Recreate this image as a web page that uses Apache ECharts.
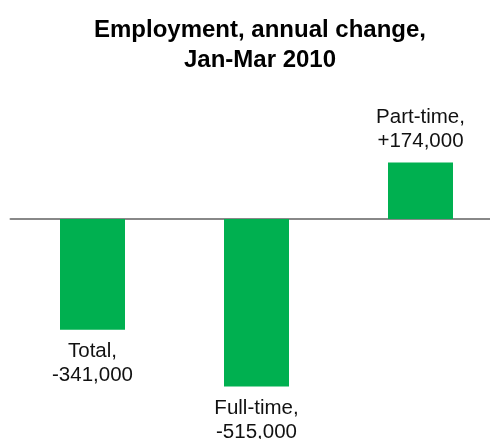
<!DOCTYPE html>
<html>
<head>
<meta charset="utf-8">
<script src="https://cdn.jsdelivr.net/npm/echarts@6/dist/echarts.min.js"></script>
<style>
html,body{margin:0;padding:0;background:#fff;}
#chart{width:490px;height:439px;}
</style>
</head>
<body>
<div id="chart"></div>
<script>
const categories = ['Total,', 'Full-time,', 'Part-time,'];
const values = [-341000, -515000, 174000];
const titleLines = ['Employment, annual change,', 'Jan-Mar 2010'];

function fmt(v) {
  const s = Math.abs(v).toLocaleString('en-US');
  return (v < 0 ? '-' : '+') + s;
}

const chart = echarts.init(document.getElementById('chart'));
const data = values.map((v, i) => ({
  value: [i, v],
  label: {
    position: v < 0 ? 'bottom' : 'top',
    distance: v < 0 ? 10 : 9,
    formatter: categories[i] + '\n' + fmt(v)
  }
}));

chart.setOption({
  animation: false,
  title: {
    text: titleLines.join('\n'),
    left: 255,
    top: 10,
    textAlign: 'center',
    textStyle: {
      fontFamily: 'Liberation Sans, Arial, sans-serif',
      fontWeight: 'bold',
      fontSize: 24,
      lineHeight: 30,
      color: '#000'
    }
  },
  grid: { left: 10.5, right: 0, top: 154, height: 260 },
  xAxis: {
    type: 'value',
    min: -0.5,
    max: (479.5 / 164) - 0.5,
    axisLine: { onZero: true, lineStyle: { color: '#888888', width: 2 } },
    axisTick: { show: false },
    axisLabel: { show: false },
    splitLine: { show: false }
  },
  yAxis: {
    type: 'value',
    min: -600000,
    max: 200000,
    show: false,
    splitLine: { show: false }
  },
  series: [{
    type: 'bar',
    data: data,
    barWidth: 65,
    itemStyle: { color: '#00B050' },
    label: {
      show: true,
      fontFamily: 'Liberation Sans, Arial, sans-serif',
      fontSize: 20.5,
      lineHeight: 24,
      color: '#111'
    }
  }]
});
</script>
</body>
</html>
